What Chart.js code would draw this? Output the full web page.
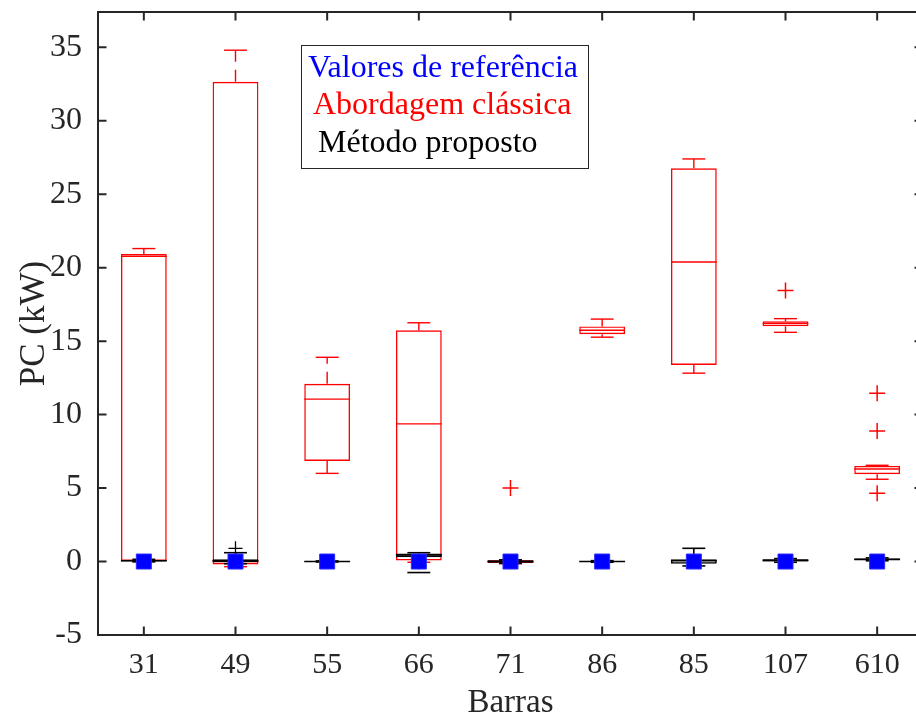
<!DOCTYPE html>
<html>
<head>
<meta charset="utf-8">
<script src="https://cdn.jsdelivr.net/npm/chart.js@4.4.1/dist/chart.umd.min.js"></script>
<style>
  html, body { margin: 0; padding: 0; overflow: hidden; background: #fff; width: 916px; height: 720px; }
  #wrap { position: absolute; left: 0; top: 0; width: 924px; height: 720px; }
</style>
</head>
<body>
<div id="wrap"><canvas id="c" width="924" height="720"></canvas></div>
<script>
// ---- Data ----
const categories = ['31', '49', '55', '66', '71', '86', '85', '107', '610'];
const yTicks = [-5, 0, 5, 10, 15, 20, 25, 30, 35];

// Valores de referência
const referenceValues = [0, 0, 0, 0, 0, 0, 0, 0, 0];

// Abordagem clássica (red boxes)
const classicWhiskerLow  = [0.0, -0.35, 6.0, -0.05, -0.15, 15.27, 12.82, 15.6, 5.6];
const classicQ1          = [0.05, -0.2, 6.85, 0.07, -0.1, 15.47, 13.38, 16.01, 5.94];
const classicMedian      = [20.77, 0.0, 11.05, 9.37, 0.0, 15.74, 20.39, 16.19, 6.3];
const classicQ3          = [20.93, 32.65, 12.1, 15.74, 0.08, 16.0, 26.76, 16.35, 6.51];
const classicWhiskerHigh = [21.3, 34.8, 13.9, 16.25, 0.1, 16.5, 27.4, 16.53, 6.55];
const classicOutliers    = [[], [], [], [], [5.0], [], [], [18.44], [11.45, 8.89, 4.65]];

// Método proposto (black boxes)
const proposedWhiskerLow  = [-0.02, -0.15, -0.03, -0.75, -0.12, -0.05, -0.3, -0.05, 0.05];
const proposedQ1          = [0.0, -0.05, -0.01, 0.3, -0.08, -0.02, -0.15, 0.0, 0.1];
const proposedMedian      = [0.05, 0.05, 0.0, 0.45, 0.0, 0.0, 0.05, 0.08, 0.15];
const proposedQ3          = [0.1, 0.15, 0.02, 0.55, 0.08, 0.03, 0.15, 0.15, 0.2];
const proposedWhiskerHigh = [0.15, 0.6, 0.04, 0.6, 0.12, 0.06, 0.9, 0.2, 0.25];
const proposedOutliers    = [[], [0.9], [], [], [], [], [], [], []];

const legendEntries = ['Valores de referência', 'Abordagem clássica', 'Método proposto'];
const legendColors = ['#0000ff', '#ff0000', '#000000'];

// ---- Build datasets ----
const stats = {
  classic: { lo: classicWhiskerLow, q1: classicQ1, med: classicMedian, q3: classicQ3, hi: classicWhiskerHigh },
  proposed: { lo: proposedWhiskerLow, q1: proposedQ1, med: proposedMedian, q3: proposedQ3, hi: proposedWhiskerHigh }
};
function outlierPoints(list) {
  const pts = [];
  list.forEach((vals, i) => vals.forEach(v => pts.push({ x: categories[i], y: v })));
  return pts;
}

const AXIS = '#262626';
const FONT = 'Liberation Serif, Times New Roman, serif';

const boxPlugin = {
  id: 'boxWhiskers',
  afterDatasetDraw(chart, args) {
    const ds = chart.data.datasets[args.index];
    if (!ds.statsKey) return;
    const s = stats[ds.statsKey];
    const y = chart.scales.y;
    const ctx = chart.ctx;
    const meta = args.meta;
    ctx.save();
    ctx.strokeStyle = ds.borderColor;
    ctx.lineWidth = ds.borderWidth;
    meta.data.forEach((bar, i) => {
      const p = bar.getProps(['x', 'width'], true);
      const x = p.x, w = p.width;
      ctx.setLineDash([]);
      const ym = y.getPixelForValue(s.med[i]);
      ctx.beginPath(); ctx.moveTo(x - w / 2, ym); ctx.lineTo(x + w / 2, ym); ctx.stroke();
      ctx.setLineDash([12, 8]);
      const yq3 = y.getPixelForValue(s.q3[i]), yhi = y.getPixelForValue(s.hi[i]);
      const yq1 = y.getPixelForValue(s.q1[i]), ylo = y.getPixelForValue(s.lo[i]);
      ctx.beginPath(); ctx.moveTo(x, yq3); ctx.lineTo(x, yhi); ctx.stroke();
      ctx.beginPath(); ctx.moveTo(x, yq1); ctx.lineTo(x, ylo); ctx.stroke();
      ctx.setLineDash([]);
      ctx.beginPath(); ctx.moveTo(x - w / 4, yhi); ctx.lineTo(x + w / 4, yhi); ctx.stroke();
      ctx.beginPath(); ctx.moveTo(x - w / 4, ylo); ctx.lineTo(x + w / 4, ylo); ctx.stroke();
    });
    ctx.restore();
  }
};

const framePlugin = {
  id: 'frameLegend',
  afterDraw(chart) {
    const ctx = chart.ctx;
    const a = chart.chartArea;
    const xs = chart.scales.x, ys = chart.scales.y;
    ctx.save();
    ctx.strokeStyle = AXIS;
    ctx.lineWidth = 2;
    ctx.strokeRect(a.left, a.top, a.right - a.left, a.bottom - a.top);
    const tl = 8.5;
    ctx.beginPath();
    yTicks.forEach(v => {
      const py = ys.getPixelForValue(v);
      ctx.moveTo(a.left, py); ctx.lineTo(a.left + tl, py);
      ctx.moveTo(a.right, py); ctx.lineTo(a.right - tl, py);
    });
    categories.forEach((c, i) => {
      const px = xs.getPixelForValue(i);
      ctx.moveTo(px, a.bottom); ctx.lineTo(px, a.bottom - tl);
      ctx.moveTo(px, a.top); ctx.lineTo(px, a.top + tl);
    });
    ctx.stroke();

    // legend box
    const lx = a.left + 203, ly = a.top + 33, lw = 287, lh = 123;
    ctx.fillStyle = '#ffffff';
    ctx.fillRect(lx, ly, lw, lh);
    ctx.strokeStyle = '#262626';
    ctx.lineWidth = 1;
    ctx.strokeRect(lx + 0.5, ly + 0.5, lw, lh);
    ctx.font = '32px ' + FONT;
    ctx.textBaseline = 'alphabetic';
    ctx.textAlign = 'left';
    const offsX = [7, 12, 17];
    const offsY = [32, 69, 107];
    legendEntries.forEach((t, i) => {
      ctx.fillStyle = legendColors[i];
      ctx.fillText(t, lx + offsX[i], ly + offsY[i]);
    });
    ctx.restore();
  }
};

new Chart(document.getElementById('c'), {
  type: 'bar',
  data: {
    labels: categories,
    datasets: [
      {
        type: 'scatter',
        label: legendEntries[0],
        data: referenceValues.map((v, i) => ({ x: categories[i], y: v })),
        pointStyle: 'rect',
        pointRadius: 10.6,
        backgroundColor: '#0000ff',
        borderColor: '#2a2aff',
        borderWidth: 1,
        order: 0
      },
      {
        type: 'scatter',
        label: 'proposed outliers',
        data: outlierPoints(proposedOutliers),
        pointStyle: 'cross',
        pointRadius: 7,
        borderColor: '#000000',
        borderWidth: 1.3,
        order: 1
      },
      {
        label: legendEntries[2],
        statsKey: 'proposed',
        data: proposedQ1.map((v, i) => [v, proposedQ3[i]]),
        backgroundColor: 'rgba(0,0,0,0)',
        borderColor: '#000000',
        borderWidth: 1.6,
        borderSkipped: false,
        grouped: false,
        barPercentage: 0.5,
        categoryPercentage: 1.0,
        order: 2
      },
      {
        type: 'scatter',
        label: 'classic outliers',
        data: outlierPoints(classicOutliers),
        pointStyle: 'cross',
        pointRadius: 8,
        borderColor: '#ff0000',
        borderWidth: 1.5,
        order: 3
      },
      {
        label: legendEntries[1],
        statsKey: 'classic',
        data: classicQ1.map((v, i) => [v, classicQ3[i]]),
        backgroundColor: 'rgba(0,0,0,0)',
        borderColor: '#ff0000',
        borderWidth: 1.4,
        borderSkipped: false,
        grouped: false,
        barPercentage: 0.5,
        categoryPercentage: 1.0,
        order: 4
      }
    ]
  },
  options: {
    responsive: false,
    animation: false,
    devicePixelRatio: 1,
    layout: { autoPadding: false, padding: { left: 0, right: 1, top: 12, bottom: 0 } },
    plugins: { legend: { display: false }, tooltip: { enabled: false } },
    scales: {
      x: {
        type: 'category',
        offset: true,
        grid: { display: false, drawTicks: false },
        border: { display: false },
        ticks: { color: AXIS, font: { family: FONT, size: 30 }, padding: 12, maxRotation: 0 },
        title: { display: true, text: 'Barras', color: AXIS, font: { family: FONT, size: 33, lineHeight: 1 }, padding: { top: 0, bottom: 0 } },
        afterFit(scale) { scale.height = 85; scale.paddingLeft = 0; scale.paddingRight = 0; }
      },
      y: {
        type: 'linear',
        min: -5,
        max: 37.4,
        grid: { display: false, drawTicks: false },
        border: { display: false },
        ticks: { color: AXIS, font: { family: FONT, size: 32 }, padding: 16 },
        afterBuildTicks(scale) { scale.ticks = yTicks.map(v => ({ value: v })); },
        title: { display: true, text: 'PC (kW)', color: AXIS, font: { family: FONT, size: 35, lineHeight: 1 }, padding: { top: 17, bottom: 0 } },
        afterFit(scale) { scale.width = 98; scale.paddingTop = 0; scale.paddingBottom = 0; }
      }
    }
  },
  plugins: [boxPlugin, framePlugin]
});
</script>
</body>
</html>
